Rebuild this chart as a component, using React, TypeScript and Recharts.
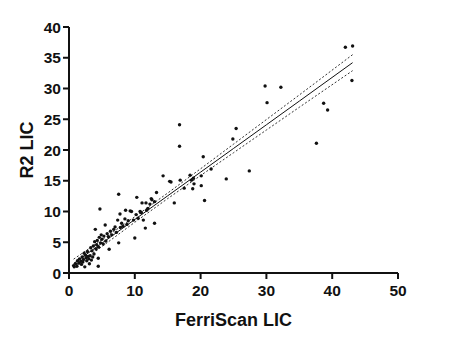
import { ScatterChart, Scatter, XAxis, YAxis } from "recharts"

// FerriScan LIC (x) vs R2 LIC (y)
const ferriScan = [
  0.7, 0.8, 1.0, 1.2, 1.3, 1.5, 1.6, 1.8, 1.9, 2.0, 2.1, 2.2, 2.3, 2.4, 2.5, 2.6, 2.7, 2.8, 2.9, 3.0,
  3.1, 3.2, 3.3, 3.4, 3.5, 3.6, 3.7, 3.8, 3.9, 4.0, 4.1, 4.2, 4.3, 4.45, 4.45, 4.5, 4.6, 4.7, 4.8, 4.9,
  5.0, 5.2, 5.3, 5.5, 5.6, 5.8, 6.0, 6.1, 6.3, 6.5, 6.8, 7.0, 7.2, 7.4, 7.55, 7.55, 7.75, 7.8, 8.0, 8.2,
  8.5, 8.6, 8.8, 9.0, 9.3, 9.5, 9.8, 10.0, 10.2, 10.3, 10.5, 10.8, 10.9, 11.0, 11.1, 11.3, 11.6, 11.7, 11.8, 12.0,
  12.3, 12.5, 12.6, 13.0, 13.0, 13.3, 14.3, 15.3, 15.5, 16.0, 16.8, 16.8, 16.9, 17.5, 18.4, 18.6, 18.8, 18.9, 19.0, 20.1,
  20.1, 20.4, 20.6, 21.6, 23.9, 24.9, 25.4, 27.4, 29.8, 30.1, 32.2, 37.6, 38.7, 39.3, 42.0, 43.1, 43.0,
]
const r2 = [
  1.2, 1.0, 1.5, 1.1, 2.0, 1.6, 2.3, 1.9, 1.4, 2.6, 1.8, 2.2, 3.2, 1.0, 2.9, 2.5, 2.0, 3.5, 2.7, 2.3,
  1.5, 2.8, 4.1, 2.1, 3.6, 2.6, 4.4, 3.1, 5.1, 7.1, 3.9, 4.6, 5.3, 2.4, 1.1, 4.2, 5.8, 10.4, 4.9, 6.2,
  5.5, 4.7, 6.0, 7.8, 5.2, 6.4, 5.9, 3.85, 6.8, 6.2, 7.1, 7.5, 6.6, 8.6, 4.9, 12.8, 9.6, 7.4, 8.1, 7.6,
  8.8, 10.2, 7.9, 8.5, 10.1, 10.0, 8.6, 5.7, 9.5, 12.3, 8.9, 10.0, 9.9, 9.8, 11.4, 8.6, 7.3, 11.4, 10.2, 10.5,
  11.2, 12.1, 11.9, 8.1, 11.6, 13.1, 15.8, 14.9, 14.8, 11.4, 24.1, 20.6, 15.1, 13.8, 15.9, 15.1, 13.7, 15.4, 14.5, 15.8,
  14.2, 18.9, 11.8, 16.9, 15.3, 21.8, 23.5, 16.6, 30.4, 27.7, 30.2, 21.1, 27.6, 26.5, 36.7, 36.9, 31.3,
]

// regression line and its 95% band
const fitX = [0.7, 5, 10, 15, 20, 25, 30, 35, 43.1]
const fitY = [1.54, 4.85, 8.7, 12.55, 16.4, 20.25, 24.1, 27.95, 34.2]
const bandUpper = [2.25, 5.4, 9.15, 13.0, 16.95, 20.95, 24.95, 28.95, 35.5]
const bandLower = [0.85, 4.3, 8.25, 12.1, 15.85, 19.55, 23.25, 26.95, 32.9]

const xTicks = [0, 10, 20, 30, 40, 50]
const yTicks = [0, 5, 10, 15, 20, 25, 30, 35, 40]

const points = ferriScan.map((x, i) => ({ x, y: r2[i] }))
const fit = fitX.map((x, i) => ({ x, y: fitY[i] }))
const upper = fitX.map((x, i) => ({ x, y: bandUpper[i] }))
const lower = fitX.map((x, i) => ({ x, y: bandLower[i] }))

const font = "'Liberation Sans', Arial, sans-serif"
const tickStyle = { fontFamily: font, fontSize: 15.5, fontWeight: 700, fill: "#111" }

const Dot = (props: any) => <circle cx={props.cx} cy={props.cy} r={1.7} fill="#111" />
const NoDot = () => <g />

export default function App() {
  return (
    <div style={{ position: "absolute", left: 0, top: 0, width: 450, height: 351, background: "#fff" }}>
      <ScatterChart width={450} height={351} margin={{ top: 27, right: 52, left: 0, bottom: 0 }}>
        <XAxis
          type="number"
          dataKey="x"
          domain={[0, 50]}
          ticks={xTicks}
          height={78}
          tickSize={6}
          tickMargin={6}
          axisLine={{ stroke: "#111", strokeWidth: 2 }}
          tickLine={{ stroke: "#111", strokeWidth: 2 }}
          tick={tickStyle}
          label={{
            content: ({ viewBox }: any) => (
              <text
                x={viewBox.x + viewBox.width / 2}
                y={viewBox.y + 53}
                textAnchor="middle"
                style={{ fontFamily: font, fontSize: 18, fontWeight: 700, fill: "#111" }}
              >
                FerriScan LIC
              </text>
            ),
          }}
        />
        <YAxis
          type="number"
          dataKey="y"
          domain={[0, 40]}
          ticks={yTicks}
          width={69}
          tickSize={6}
          tickMargin={2}
          axisLine={{ stroke: "#111", strokeWidth: 2 }}
          tickLine={{ stroke: "#111", strokeWidth: 2 }}
          tick={tickStyle}
          label={{
            content: ({ viewBox }: any) => {
              const cx = 33
              const cy = viewBox.y + viewBox.height / 2
              return (
                <text
                  x={cx}
                  y={cy}
                  textAnchor="middle"
                  transform={`rotate(-90, ${cx}, ${cy})`}
                  style={{ fontFamily: font, fontSize: 18, fontWeight: 700, fill: "#111" }}
                >
                  R2 LIC
                </text>
              )
            },
          }}
        />
        <Scatter data={upper} shape={NoDot} line={{ stroke: "#333", strokeWidth: 1, strokeDasharray: "2 2" }} isAnimationActive={false} />
        <Scatter data={lower} shape={NoDot} line={{ stroke: "#333", strokeWidth: 1, strokeDasharray: "2 2" }} isAnimationActive={false} />
        <Scatter data={fit} shape={NoDot} line={{ stroke: "#111", strokeWidth: 1 }} isAnimationActive={false} />
        <Scatter data={points} shape={Dot} isAnimationActive={false} />
      </ScatterChart>
    </div>
  )
}
